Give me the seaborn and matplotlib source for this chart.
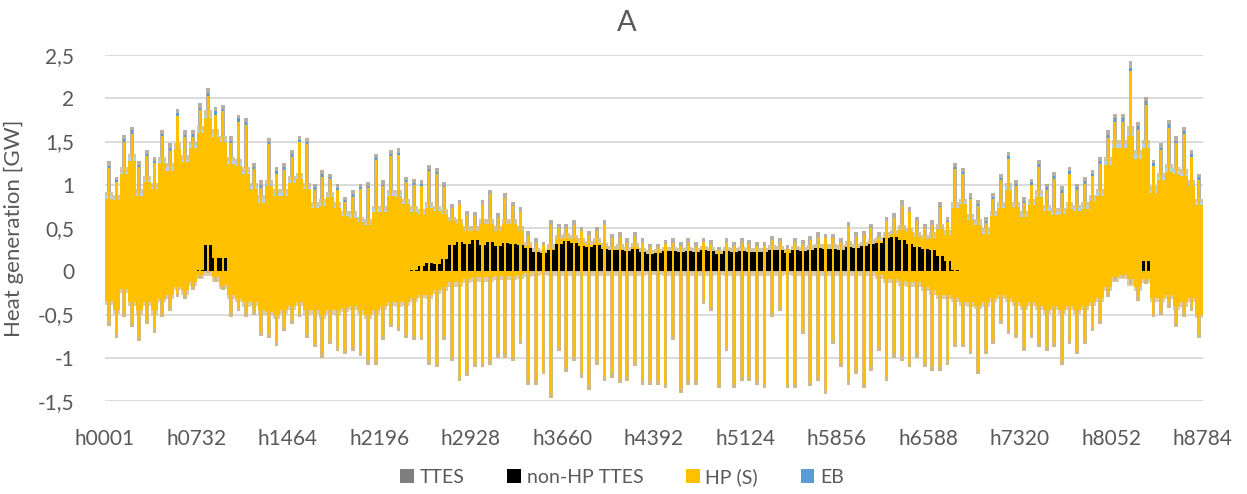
import numpy as np
import pandas as pd
import matplotlib
matplotlib.use("Agg")
import matplotlib.pyplot as plt
import seaborn as sns
from matplotlib.patches import Patch

# ---------------- data (GW), one value per 61-hour block of the year ----------------
HOURS_PER_BIN = 61
tick_hours = [1, 732, 1464, 2196, 2928, 3660, 4392, 5124, 5856, 6588, 7320, 8052, 8784]
tick_labels = ["h0001", "h0732", "h1464", "h2196", "h2928", "h3660", "h4392",
               "h5124", "h5856", "h6588", "h7320", "h8052", "h8784"]
series_names = ["TTES", "non-HP TTES", "HP (S)", "EB"]

# upper envelope of the positive spikes (total of all producers)
pos_top = [1.27, 1.09, 1.58, 1.67, 1.28, 1.40, 1.32, 1.63, 1.48, 1.87, 1.63, 1.63, 1.94, 2.12, 1.90, 1.92, 1.56, 1.81,
           1.77, 1.25, 1.05, 1.54, 1.21, 1.25, 1.40, 1.56, 1.54, 1.01, 1.17, 1.13, 1.01, 0.86, 0.94, 1.01, 1.03, 1.36,
           1.05, 1.40, 1.42, 1.09, 1.07, 1.05, 1.23, 1.19, 1.03, 0.78, 0.82, 0.70, 0.69, 0.82, 0.94, 0.67, 0.90, 0.80,
           0.74, 0.47, 0.38, 0.34, 0.59, 0.55, 0.55, 0.59, 0.51, 0.47, 0.51, 0.59, 0.43, 0.45, 0.38, 0.45, 0.38, 0.32,
           0.32, 0.36, 0.38, 0.34, 0.38, 0.34, 0.39, 0.36, 0.28, 0.38, 0.34, 0.38, 0.36, 0.34, 0.34, 0.41, 0.39, 0.30,
           0.39, 0.36, 0.41, 0.45, 0.43, 0.43, 0.39, 0.57, 0.45, 0.47, 0.55, 0.45, 0.63, 0.67, 0.82, 0.74, 0.63, 0.55,
           0.59, 0.80, 0.63, 1.25, 1.19, 0.90, 0.82, 0.63, 0.90, 1.13, 1.38, 1.05, 0.86, 1.07, 1.29, 1.01, 1.15, 0.98,
           1.21, 1.01, 1.09, 1.17, 1.32, 1.63, 1.82, 1.82, 2.43, 1.73, 2.02, 1.29, 1.48, 1.75, 1.56, 1.67, 1.40, 1.13]

# level of the dense positive band
fill_top = [0.92, 0.88, 1.20, 1.36, 0.95, 1.10, 1.02, 1.32, 1.25, 1.48, 1.34, 1.50, 1.68, 1.86, 1.64, 1.56, 1.32, 1.30,
            1.20, 1.02, 0.88, 1.05, 0.95, 0.95, 1.10, 1.14, 1.02, 0.80, 0.84, 0.92, 0.80, 0.70, 0.70, 0.63, 0.60, 0.76,
            0.76, 0.94, 0.94, 0.84, 0.76, 0.72, 0.80, 0.76, 0.72, 0.63, 0.60, 0.52, 0.52, 0.60, 0.60, 0.52, 0.60, 0.60,
            0.52, 0.34, 0.27, 0.24, 0.31, 0.42, 0.44, 0.42, 0.38, 0.35, 0.38, 0.33, 0.29, 0.31, 0.27, 0.33, 0.27, 0.24,
            0.26, 0.28, 0.28, 0.27, 0.28, 0.27, 0.29, 0.28, 0.25, 0.28, 0.27, 0.28, 0.27, 0.27, 0.27, 0.30, 0.29, 0.26,
            0.29, 0.28, 0.30, 0.32, 0.31, 0.31, 0.30, 0.35, 0.32, 0.34, 0.37, 0.40, 0.45, 0.48, 0.54, 0.50, 0.45, 0.42,
            0.45, 0.55, 0.48, 0.80, 0.84, 0.66, 0.60, 0.50, 0.70, 0.80, 1.02, 0.80, 0.70, 0.84, 0.94, 0.77, 0.73, 0.73,
            0.80, 0.77, 0.80, 0.88, 0.95, 1.32, 1.52, 1.52, 1.68, 1.40, 1.52, 0.98, 1.14, 1.24, 1.21, 1.18, 1.06, 0.84]

non_hp_ttes = [0.00, 0.00, 0.00, 0.00, 0.00, 0.00, 0.00, 0.00, 0.00, 0.00, 0.00, 0.00, 0.02, 0.30, 0.15, 0.15, 0.00, 0.00,
               0.00, 0.00, 0.00, 0.00, 0.00, 0.00, 0.00, 0.00, 0.00, 0.00, 0.00, 0.00, 0.00, 0.00, 0.00, 0.00, 0.00, 0.00,
               0.00, 0.00, 0.00, 0.00, 0.02, 0.06, 0.10, 0.08, 0.14, 0.30, 0.34, 0.31, 0.36, 0.30, 0.34, 0.29, 0.33, 0.31,
               0.30, 0.27, 0.22, 0.21, 0.25, 0.32, 0.35, 0.33, 0.29, 0.28, 0.30, 0.26, 0.24, 0.25, 0.23, 0.26, 0.22, 0.20,
               0.21, 0.23, 0.23, 0.22, 0.23, 0.22, 0.24, 0.23, 0.20, 0.23, 0.22, 0.23, 0.22, 0.22, 0.22, 0.25, 0.24, 0.21,
               0.24, 0.23, 0.25, 0.27, 0.26, 0.26, 0.25, 0.28, 0.27, 0.29, 0.31, 0.33, 0.38, 0.40, 0.36, 0.32, 0.28, 0.26,
               0.24, 0.18, 0.12, 0.02, 0.00, 0.00, 0.00, 0.00, 0.00, 0.00, 0.00, 0.00, 0.00, 0.00, 0.00, 0.00, 0.00, 0.00,
               0.00, 0.00, 0.00, 0.00, 0.00, 0.00, 0.00, 0.00, 0.00, 0.00, 0.12, 0.00, 0.00, 0.00, 0.00, 0.00, 0.00, 0.00]

ttes_pos = [0.05, 0.04, 0.05, 0.04, 0.05, 0.04, 0.05, 0.04, 0.05, 0.04, 0.05, 0.04, 0.05, 0.06, 0.05, 0.04, 0.05, 0.04,
            0.05, 0.04, 0.05, 0.04, 0.05, 0.04, 0.05, 0.04, 0.05, 0.04, 0.05, 0.04, 0.05, 0.04, 0.05, 0.04, 0.05, 0.04,
            0.05, 0.04, 0.05, 0.04, 0.05, 0.04, 0.05, 0.04, 0.05, 0.05, 0.05, 0.05, 0.05, 0.05, 0.05, 0.05, 0.05, 0.05,
            0.05, 0.05, 0.05, 0.04, 0.05, 0.05, 0.05, 0.05, 0.05, 0.05, 0.05, 0.05, 0.05, 0.05, 0.05, 0.05, 0.05, 0.04,
            0.04, 0.05, 0.05, 0.05, 0.05, 0.05, 0.05, 0.05, 0.04, 0.05, 0.05, 0.05, 0.05, 0.05, 0.05, 0.05, 0.05, 0.04,
            0.05, 0.05, 0.05, 0.05, 0.05, 0.05, 0.05, 0.06, 0.05, 0.05, 0.05, 0.05, 0.05, 0.05, 0.06, 0.05, 0.05, 0.05,
            0.05, 0.05, 0.05, 0.05, 0.04, 0.05, 0.04, 0.05, 0.04, 0.05, 0.05, 0.04, 0.05, 0.04, 0.05, 0.04, 0.05, 0.04,
            0.05, 0.04, 0.05, 0.04, 0.05, 0.05, 0.05, 0.05, 0.08, 0.05, 0.05, 0.04, 0.05, 0.05, 0.05, 0.05, 0.05, 0.04]

eb = [0.03, 0.02, 0.03, 0.04, 0.03, 0.03, 0.02, 0.03, 0.04, 0.03, 0.03, 0.04, 0.03, 0.03, 0.04, 0.03, 0.03, 0.04,
      0.03, 0.03, 0.04, 0.03, 0.03, 0.04, 0.03, 0.03, 0.02, 0.03, 0.03, 0.02, 0.02, 0.02, 0.03, 0.02, 0.02, 0.03,
      0.02, 0.03, 0.03, 0.02, 0.02, 0.02, 0.02, 0.02, 0.01, 0.00, 0.00, 0.00, 0.00, 0.00, 0.00, 0.00, 0.00, 0.00,
      0.00, 0.00, 0.00, 0.00, 0.00, 0.00, 0.00, 0.00, 0.00, 0.00, 0.00, 0.00, 0.00, 0.00, 0.00, 0.00, 0.00, 0.00,
      0.00, 0.00, 0.00, 0.00, 0.00, 0.00, 0.00, 0.00, 0.00, 0.00, 0.00, 0.00, 0.00, 0.00, 0.00, 0.00, 0.00, 0.00,
      0.00, 0.00, 0.00, 0.00, 0.00, 0.00, 0.00, 0.00, 0.00, 0.00, 0.00, 0.00, 0.00, 0.00, 0.00, 0.00, 0.00, 0.00,
      0.01, 0.01, 0.01, 0.02, 0.02, 0.02, 0.02, 0.02, 0.02, 0.02, 0.03, 0.02, 0.02, 0.03, 0.03, 0.03, 0.03, 0.03,
      0.03, 0.03, 0.03, 0.03, 0.03, 0.04, 0.05, 0.05, 0.04, 0.05, 0.05, 0.03, 0.03, 0.04, 0.03, 0.03, 0.03, 0.03]

# dense negative band (storage charging)
neg_fill = [-0.34, -0.45, -0.20, -0.36, -0.45, -0.36, -0.45, -0.32, -0.27, -0.18, -0.22, -0.13, -0.04, 0.00, -0.07, -0.16, -0.27, -0.32,
            -0.36, -0.36, -0.45, -0.47, -0.50, -0.45, -0.40, -0.36, -0.45, -0.45, -0.50, -0.45, -0.45, -0.43, -0.40, -0.45, -0.50, -0.45,
            -0.40, -0.36, -0.36, -0.36, -0.31, -0.27, -0.27, -0.22, -0.18, -0.13, -0.13, -0.09, -0.07, -0.07, -0.07, -0.05, -0.05, -0.05,
            -0.04, -0.02, 0.00, 0.00, 0.00, 0.00, 0.00, 0.00, 0.00, 0.00, 0.00, 0.00, 0.00, 0.00, 0.00, 0.00, 0.00, 0.00,
            0.00, 0.00, 0.00, 0.00, 0.00, 0.00, 0.00, 0.00, 0.00, 0.00, 0.00, 0.00, 0.00, 0.00, 0.00, 0.00, 0.00, 0.00,
            0.00, 0.00, 0.00, 0.00, 0.00, 0.00, 0.00, 0.00, 0.00, 0.00, 0.00, -0.04, -0.09, -0.09, -0.11, -0.13, -0.13, -0.18,
            -0.22, -0.27, -0.27, -0.31, -0.36, -0.36, -0.40, -0.36, -0.31, -0.27, -0.31, -0.36, -0.40, -0.36, -0.40, -0.45, -0.40, -0.45,
            -0.40, -0.45, -0.40, -0.36, -0.31, -0.18, -0.07, -0.04, -0.09, -0.18, -0.09, -0.31, -0.31, -0.27, -0.40, -0.36, -0.31, -0.50]

# lower envelope of the negative spikes
neg_bot = [-0.63, -0.77, -0.53, -0.65, -0.81, -0.61, -0.71, -0.53, -0.46, -0.30, -0.32, -0.22, -0.08, -0.02, -0.12, -0.22, -0.53, -0.46,
           -0.53, -0.50, -0.75, -0.77, -0.86, -0.69, -0.61, -0.53, -0.77, -0.88, -1.00, -0.84, -0.92, -0.96, -0.92, -0.98, -1.08, -1.08,
           -0.80, -0.65, -0.69, -0.77, -0.80, -0.80, -1.08, -1.11, -0.80, -1.04, -1.27, -1.21, -1.11, -1.11, -1.08, -1.00, -1.00, -1.04,
           -0.84, -1.31, -1.31, -1.19, -1.46, -0.92, -1.17, -1.04, -1.23, -1.37, -1.08, -1.27, -1.23, -1.29, -1.27, -1.10, -1.31, -1.31,
           -1.31, -1.35, -0.80, -1.41, -1.31, -1.31, -0.38, -0.46, -1.35, -0.92, -1.35, -1.27, -1.27, -1.31, -1.35, -0.53, -0.46, -1.35,
           -1.35, -0.73, -1.33, -1.27, -1.42, -0.84, -1.11, -1.31, -1.19, -1.35, -1.15, -0.92, -1.27, -1.00, -1.04, -1.11, -1.00, -1.11,
           -1.15, -1.15, -1.08, -0.88, -0.88, -0.96, -1.19, -0.96, -0.84, -0.61, -0.73, -0.77, -0.92, -0.77, -0.88, -0.92, -0.88, -1.08,
           -0.84, -0.96, -0.84, -0.69, -0.61, -0.30, -0.11, -0.07, -0.15, -0.34, -0.15, -0.53, -0.51, -0.42, -0.65, -0.53, -0.46, -0.77]

for name, arr in [("pos_top", pos_top), ("fill_top", fill_top), ("non_hp_ttes", non_hp_ttes),
                  ("ttes_pos", ttes_pos), ("eb", eb), ("neg_fill", neg_fill), ("neg_bot", neg_bot)]:
    assert len(arr) == 144, (name, len(arr))

df = pd.DataFrame({"pos_top": pos_top, "fill_top": fill_top, "non_hp": non_hp_ttes,
                   "ttes": ttes_pos, "eb": eb, "neg_fill": neg_fill, "neg_bot": neg_bot})
df["hour"] = 1 + HOURS_PER_BIN * np.arange(len(df)) + (HOURS_PER_BIN - 1) / 2

# ---------------- style ----------------
sns.set_theme(style="white")
plt.rcParams["font.family"] = ["Lato", "DejaVu Sans"]
TXT = "#595959"
pal = sns.color_palette(["#7F7F7F", "#000000", "#FFC000", "#5B9BD5"])
C_TTES, C_BLK, C_HP, C_EB = pal
C_TIP = "#ABA394"        # TTES tips blended with HP
C_FRINGE = "#C9B68C"     # TTES fringe on the dense band
C_NEG_EDGE = "#D2B882"

fig = plt.figure(figsize=(12.47, 4.94), dpi=100)
ax = fig.add_axes([105 / 1247, 1 - 401 / 494, 1098 / 1247, 346 / 494])

w = HOURS_PER_BIN
x = df["hour"].values
blk = df["non_hp"].values
ebv = df["eb"].values
tt = df["ttes"].values
hp = np.clip(df["fill_top"].values - tt - ebv - blk, 0, None)
band_top = blk + hp + ebv + tt
top = df["pos_top"].values

# dense positive band
ax.bar(x, blk, width=w, color=C_BLK, linewidth=0)
ax.bar(x, hp, width=w, bottom=blk, color=C_HP, linewidth=0)
ax.bar(x, ebv, width=w, bottom=blk + hp, color=C_EB, alpha=0.45, linewidth=0)
ax.bar(x, tt, width=w, bottom=blk + hp + ebv, color=C_FRINGE, alpha=0.8, linewidth=0)
# positive spikes
base = np.minimum(band_top, top)
ax.bar(x, top - base, width=w * 0.5, bottom=base, color=C_TIP, alpha=0.85, linewidth=0)
ax.bar(x, top - tt - ebv, width=w * 0.28, color=C_HP, linewidth=0)
ax.bar(x, ebv, width=w * 0.28, bottom=top - tt - ebv, color=C_EB, linewidth=0)

# negative band and spikes
nf = df["neg_fill"].values
nb = df["neg_bot"].values
ax.bar(x, nf, width=w, color=C_HP, linewidth=0)
ax.bar(x, -tt, width=w, bottom=nf, color=C_NEG_EDGE, alpha=0.7, linewidth=0)
ax.bar(x, nb - nf, width=w * 0.5, bottom=nf, color=C_NEG_EDGE, linewidth=0)
ax.bar(x, np.minimum(nb + tt, 0), width=w * 0.26, color=C_HP, linewidth=0)

# axes
ax.set_xlim(0.5, 8784.5)
ax.set_ylim(-1.5, 2.5)
yt = [-1.5, -1, -0.5, 0, 0.5, 1, 1.5, 2, 2.5]
ax.set_yticks(yt)
ax.set_yticklabels([("%g" % v).replace(".", ",") for v in yt])
ax.set_xticks(tick_hours)
ax.set_xticklabels(tick_labels)
ax.tick_params(axis="both", length=0, labelsize=15, colors=TXT)
ax.tick_params(axis="y", pad=22)
ax.tick_params(axis="x", pad=20)
ax.grid(axis="y", color="#D9D9D9", linewidth=1.3)
ax.grid(axis="x", visible=False)
ax.set_axisbelow(True)
for s in ax.spines.values():
    s.set_visible(False)

ax.set_ylabel("Heat generation [GW]", fontsize=16, color=TXT)
ax.yaxis.set_label_coords((24 - 105) / 1098, 0.5)

fig.text(627 / 1247, 1 - 23 / 494, "A", ha="center", va="center", fontsize=21, color=TXT)

handles = [Patch(facecolor=c, edgecolor="none", label=n) for c, n in zip(pal, series_names)]
fig.legend(handles=handles, loc="center", bbox_to_anchor=(622 / 1247, 1 - 477 / 494), ncol=4,
           frameon=False, fontsize=14, handlelength=0.7, handleheight=0.7, handletextpad=0.3,
           columnspacing=2.2, labelcolor=TXT)

fig.savefig("out.png", dpi=100)
